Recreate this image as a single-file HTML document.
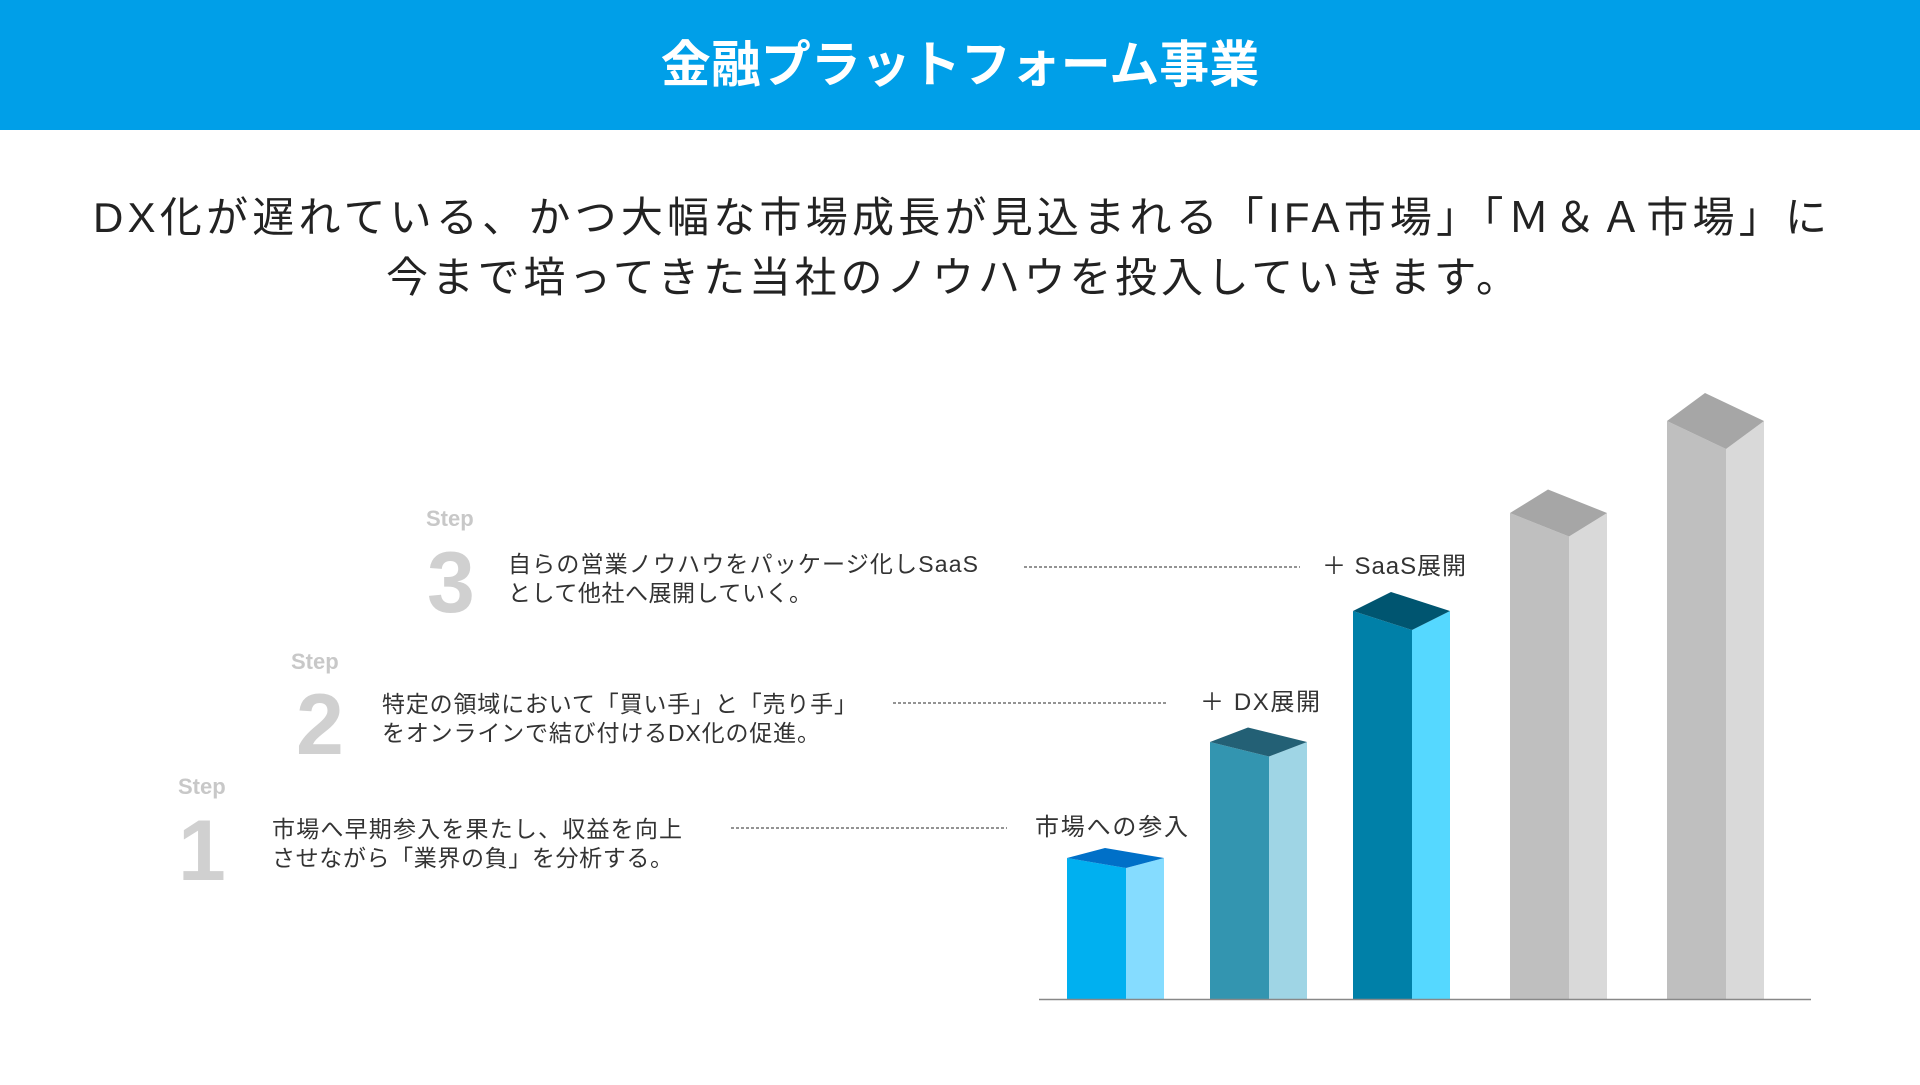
<!DOCTYPE html>
<html><head><meta charset="utf-8">
<style>
html,body{margin:0;padding:0;background:#fff;}
body{width:1920px;height:1080px;overflow:hidden;font-family:"Liberation Sans","Noto Sans CJK JP",sans-serif;}
svg text{font-family:"Liberation Sans","Noto Sans CJK JP",sans-serif;}
</style></head>
<body>
<svg id="chart" width="1920" height="1080" viewBox="0 0 1920 1080" xmlns="http://www.w3.org/2000/svg">
  <rect x="0" y="0" width="1920" height="130" fill="#009fe8"/>
  <text x="960" y="82" text-anchor="middle" font-size="50" font-weight="bold" fill="#fff">金融プラットフォーム事業</text>
  <text x="93" y="232" font-size="42" fill="#222" textLength="1734" lengthAdjust="spacing">DX化が遅れている、かつ大幅な市場成長が見込まれる「IFA市場」「Ｍ＆Ａ市場」に</text>
  <text x="386" y="292" font-size="42" fill="#222" textLength="1132" lengthAdjust="spacing">今まで培ってきた当社のノウハウを投入していきます。</text>

  <g>
    <text x="426" y="526" font-size="22" font-weight="bold" fill="#c8c8c8">Step</text>
    <text x="427" y="612" font-size="86" font-weight="bold" fill="#d0d0d0">3</text>
    <text x="508" y="572" font-size="23" fill="#333" textLength="470" lengthAdjust="spacing">自らの営業ノウハウをパッケージ化しSaaS</text>
    <text x="508" y="601" font-size="23" fill="#333" textLength="304" lengthAdjust="spacing">として他社へ展開していく。</text>
  </g>
  <g>
    <text x="291" y="669" font-size="22" font-weight="bold" fill="#c8c8c8">Step</text>
    <text x="296" y="754" font-size="86" font-weight="bold" fill="#d0d0d0">2</text>
    <text x="382" y="712" font-size="23" fill="#333" textLength="475" lengthAdjust="spacing">特定の領域において「買い手」と「売り手」</text>
    <text x="382" y="741" font-size="23" fill="#333" textLength="438" lengthAdjust="spacing">をオンラインで結び付けるDX化の促進。</text>
  </g>
  <g>
    <text x="178" y="794" font-size="22" font-weight="bold" fill="#c8c8c8">Step</text>
    <text x="178" y="880" font-size="86" font-weight="bold" fill="#d0d0d0">1</text>
    <text x="272" y="837" font-size="23" fill="#333" textLength="410" lengthAdjust="spacing">市場へ早期参入を果たし、収益を向上</text>
    <text x="272" y="866" font-size="23" fill="#333" textLength="401" lengthAdjust="spacing">させながら「業界の負」を分析する。</text>
  </g>

  <g stroke="#555" stroke-width="1.3" stroke-dasharray="3 2">
    <line x1="1024" y1="567" x2="1300" y2="567"/>
    <line x1="893" y1="703" x2="1168" y2="703"/>
    <line x1="731" y1="828" x2="1007" y2="828"/>
  </g>
  <text x="1322" y="574" font-size="24" fill="#333" textLength="144" lengthAdjust="spacing">＋ SaaS展開</text>
  <text x="1200" y="710" font-size="24" fill="#333" textLength="120" lengthAdjust="spacing">＋ DX展開</text>
  <text x="1035" y="835" font-size="24" fill="#333" textLength="153" lengthAdjust="spacing">市場への参入</text>

  <g id="bars"></g>
  <line x1="1039" y1="999.5" x2="1811" y2="999.5" stroke="#888" stroke-width="1.5"/>
</svg>
<script>
const categories = ["step1", "step2", "step3", "future1", "future2"];
const values = [141, 257, 388, 486, 578];
const fronts = ["#00b0f0", "#3395b0", "#0080a8", "#bfbfbf", "#bfbfbf"];
const sides = ["#85dcff", "#9fd5e5", "#55d8ff", "#d9d9d9", "#d9d9d9"];
const tops = ["#0070c8", "#236075", "#005570", "#a6a6a6", "#a6a6a6"];

const baseY = 999;
const x0 = 1067, step = 143, frontW = 59, sideW = 38;
function xScale(i){ return x0 + i * step + (i >= 3 ? 14 * (i - 2) : 0); }
function yScale(v){ return baseY - v; }

const g = document.getElementById('bars');
const NS = 'http://www.w3.org/2000/svg';
function poly(pts, fill, name){
  const p = document.createElementNS(NS, 'polygon');
  p.setAttribute('points', pts.map(a => a.join(',')).join(' '));
  p.setAttribute('fill', fill);
  
  
  g.appendChild(p);
}
categories.forEach((c, i) => {
  const L = xScale(i), M = L + frontW, R = M + sideW;
  const yL = yScale(values[i]);
  const d = 10 + 4.5 * i;
  const yM = yL + d, yB = yL - d;
  const B = L + (R - M);
  poly([[L,yL],[M,yM],[M,baseY],[L,baseY]], fronts[i], 'bar-' + c + '-front');
  poly([[M,yM],[R,yL],[R,baseY],[M,baseY]], sides[i], 'bar-' + c + '-side');
  poly([[L,yL],[B,yB],[R,yL],[M,yM]], tops[i], 'bar-' + c + '-top');
});
</script>
</body></html>
